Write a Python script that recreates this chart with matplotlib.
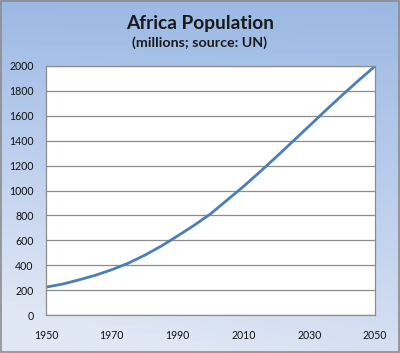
import numpy as np
import matplotlib
matplotlib.use('Agg')
import matplotlib.pyplot as plt
from matplotlib.patches import Rectangle

## UN estimates / projections, millions
years = [1950, 1955, 1960, 1965, 1970, 1975, 1980, 1985, 1990, 1995, 2000,
         2005, 2010, 2015, 2020, 2025, 2030, 2035, 2040, 2045, 2050]
population = [224, 248, 282, 319, 364, 416, 480, 553, 635, 720, 812,
              922, 1032, 1149, 1270, 1394, 1518, 1643, 1765, 1884, 1998]
x_ticks = [1950, 1970, 1990, 2010, 2030, 2050]
y_ticks = list(range(0, 2001, 200))

plt.rcParams['font.family'] = ['Lato', 'DejaVu Sans']

fig = plt.figure(figsize=(4.0, 3.53), dpi=100)

## gradient background (blue at top, pale at bottom), slightly diagonal
bg = fig.add_axes([0, 0, 1, 1], zorder=-10)
top = np.array([155, 185, 228]) / 255.0
bottom = np.array([224, 231, 245]) / 255.0
ty = np.linspace(0, 1, 256).reshape(-1, 1)
tx = np.linspace(0, 1, 256).reshape(1, -1)
t = np.clip(0.85 * ty + 0.15 * (1 - tx) * ty * 2, 0, 1)[..., None]
img = top * (1 - t) + bottom * t
bg.imshow(img, aspect='auto', extent=[0, 1, 0, 1])
bg.add_patch(Rectangle((0.002, 0.002), 0.995, 0.995, fill=False,
                       edgecolor='#8c8c8c', linewidth=1.2))
bg.set_xlim(0, 1)
bg.set_ylim(0, 1)
bg.axis('off')

## plot area
W, H = 400.0, 353.0
left, right, top_px, bot_px = 46, 375, 66, 315
ax = fig.add_axes([left / W, 1 - bot_px / H, (right - left) / W, (bot_px - top_px) / H])
ax.set_facecolor('white')
ax.plot(years, population, color='#4a7ebb', linewidth=2.0, solid_capstyle='round')

ax.set_xlim(1950, 2050)
ax.set_ylim(0, 2000)
ax.set_xticks(x_ticks)
ax.set_yticks(y_ticks)
ax.yaxis.grid(True, color='#8c8c8c', linewidth=0.9)
ax.set_axisbelow(True)
ax.tick_params(length=0, labelsize=7.6, colors='#111111', pad=9)
ax.tick_params(axis='x', pad=11)
for s in ax.spines.values():
    s.set_color('#8c8c8c')
    s.set_linewidth(0.9)

fig.text(0.5, 1 - 23 / H, 'Africa Population', ha='center', va='center',
         fontsize=13.8, fontweight='bold', color='#1a1a1a')
fig.text(0.5, 1 - 43 / H, '(millions; source: UN)', ha='center', va='center',
         fontsize=10.3, fontweight='bold', color='#1a1a1a')

fig.savefig('out.png', dpi=100)
